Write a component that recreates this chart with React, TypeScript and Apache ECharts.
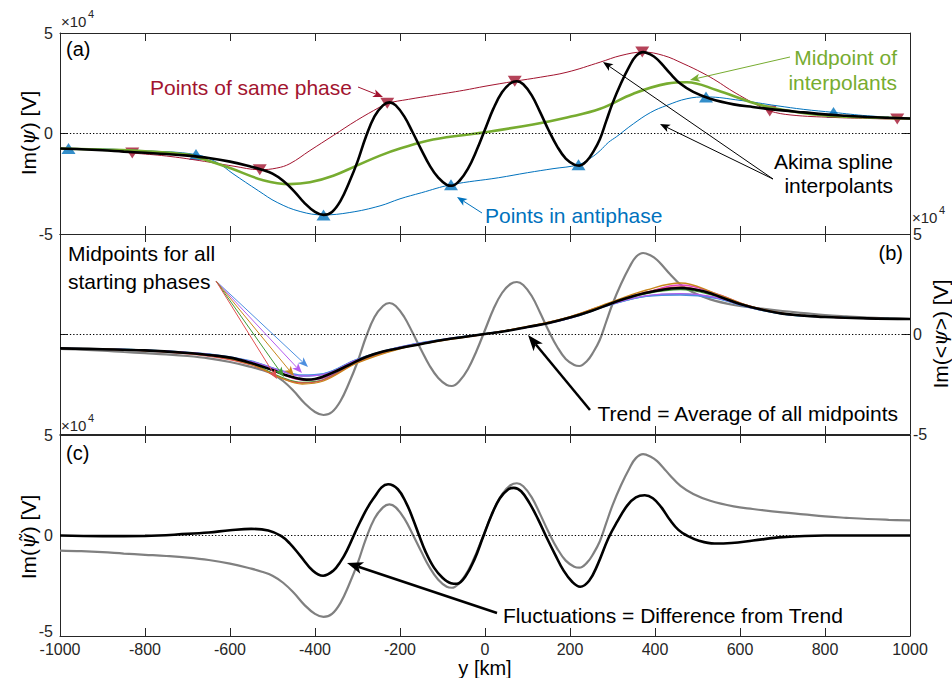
import React, { useEffect, useRef } from "react";
import * as echarts from "echarts";

// ---------- data (values in units of 1e4 V, y in km) ----------
const psi: [number, number][] = [
  [-1000, -0.75], [-950, -0.78], [-900, -0.83], [-850, -0.9], [-800, -0.96], [-750, -1.02],
  [-700, -1.1], [-650, -1.22], [-600, -1.4], [-550, -1.65], [-525, -1.8], [-500, -2.0],
  [-475, -2.35], [-450, -2.85], [-425, -3.45], [-400, -3.9], [-380, -4.05], [-360, -3.9],
  [-340, -3.35], [-320, -2.45], [-300, -1.4], [-280, -0.15], [-260, 0.85], [-240, 1.4],
  [-225, 1.55], [-210, 1.4], [-190, 0.85], [-170, 0.05], [-150, -0.8], [-130, -1.6],
  [-110, -2.2], [-90, -2.55], [-78, -2.6], [-60, -2.35], [-40, -1.75], [-20, -0.85],
  [0, 0.2], [20, 1.25], [40, 2.05], [60, 2.5], [75, 2.6], [90, 2.45], [110, 1.9],
  [130, 1.05], [150, 0.15], [170, -0.65], [190, -1.25], [210, -1.55], [222, -1.6],
  [240, -1.35], [255, -0.9], [270, -0.3], [285, 0.6], [300, 1.5], [320, 2.5], [340, 3.35],
  [355, 3.85], [372, 4.05], [390, 3.92], [405, 3.7], [420, 3.36], [435, 3.0], [460, 2.47],
  [490, 2.07], [530, 1.73], [585, 1.45], [630, 1.32], [700, 1.15], [750, 1.05], [800, 0.95],
  [850, 0.88], [900, 0.82], [950, 0.78], [1000, 0.75],
];

const samePhaseCurve: [number, number][] = [
  [-1000, -0.75], [-900, -0.82], [-830, -0.97], [-750, -1.12], [-671, -1.35], [-593, -1.62],
  [-530, -1.8], [-490, -1.72], [-459, -1.5], [-412, -0.85], [-357, -0.1], [-302, 0.65],
  [-247, 1.32], [-230, 1.5], [-180, 1.7], [-122, 1.9], [-50, 2.15], [0, 2.35], [70, 2.6],
  [130, 2.8], [193, 3.05], [271, 3.55], [320, 3.88], [372, 4.05], [420, 3.88], [466, 3.48],
  [513, 3.0], [546, 2.6], [575, 2.2], [607, 1.8], [640, 1.42], [670, 1.12], [720, 0.92],
  [819, 0.8], [900, 0.75], [970, 0.72], [1000, 0.72],
];

const antiPhaseCurve: [number, number][] = [
  [-1000, -0.75], [-980, -0.75], [-900, -0.77], [-800, -0.86], [-680, -1.05], [-630, -1.45],
  [-593, -2.0], [-533, -2.85], [-489, -3.43], [-435, -3.88], [-380, -4.05], [-318, -3.93],
  [-247, -3.6], [-200, -3.25], [-150, -2.95], [-80, -2.55], [32, -2.2], [100, -1.95],
  [160, -1.75], [220, -1.55], [250, -1.2], [271, -0.85], [290, -0.45], [310, -0.15],
  [349, 0.48], [390, 1.05], [428, 1.4], [475, 1.73], [520, 1.82], [600, 1.65], [687, 1.38],
  [750, 1.2], [820, 1.05], [900, 0.88], [1000, 0.76],
];

const midpointCurve: [number, number][] = [
  [-1000, -0.75], [-900, -0.8], [-800, -0.88], [-700, -1.05], [-671, -1.22], [-600, -1.72],
  [-522, -2.32], [-459, -2.52], [-412, -2.43], [-357, -2.1], [-302, -1.6], [-247, -1.1],
  [-200, -0.75], [-122, -0.3], [-4, 0.05], [113, 0.45], [193, 0.8], [271, 1.23], [349, 1.98],
  [428, 2.48], [475, 2.55], [546, 2.15], [624, 1.57], [687, 1.23], [788, 0.92], [900, 0.8],
  [1000, 0.75],
];

const samePhasePoints: [number, number][] = [
  [-830, -0.97], [-530, -1.8], [-230, 1.5], [70, 2.6], [370, 4.05], [670, 1.12], [970, 0.72],
];
const antiPhasePoints: [number, number][] = [
  [-980, -0.75], [-680, -1.05], [-380, -4.05], [-80, -2.55], [220, -1.55], [520, 1.82], [820, 1.05],
];

const trend: [number, number][] = [
  [-1000, -0.72], [-900, -0.76], [-800, -0.82], [-700, -0.95], [-650, -1.05], [-600, -1.18],
  [-550, -1.45], [-500, -1.8], [-470, -2.05], [-440, -2.22], [-420, -2.28], [-400, -2.25],
  [-360, -1.95], [-320, -1.55], [-280, -1.15], [-240, -0.88], [-200, -0.7], [-150, -0.5],
  [-100, -0.3], [-50, -0.15], [0, 0], [50, 0.15], [100, 0.35], [150, 0.55], [200, 0.82],
  [250, 1.15], [300, 1.55], [350, 1.9], [400, 2.15], [460, 2.3], [520, 2.1], [560, 1.8],
  [600, 1.5], [650, 1.22], [700, 1.02], [750, 0.92], [800, 0.85], [900, 0.78], [1000, 0.75],
];

const midX = [-1000, -800, -650, -550, -480, -430, -380, -300, -200, -100, 0, 100, 200, 300, 380, 460, 540, 620, 700, 800, 1000];
const midRed = [-0.72, -0.84, -1.1, -1.55, -2.2, -2.45, -2.3, -1.42, -0.72, -0.32, 0.0, 0.37, 0.86, 1.6, 2.1, 2.35, 1.98, 1.4, 1.03, 0.85, 0.75];
const midGreen = [-0.72, -0.83, -1.08, -1.5, -2.15, -2.42, -2.28, -1.4, -0.7, -0.3, 0.02, 0.36, 0.84, 1.57, 2.02, 2.22, 1.92, 1.37, 1.02, 0.85, 0.75];
const midOrange = [-0.72, -0.83, -1.06, -1.52, -2.2, -2.5, -2.35, -1.45, -0.74, -0.33, -0.01, 0.38, 0.87, 1.62, 2.2, 2.55, 2.05, 1.42, 1.04, 0.86, 0.75];
const midPurple = [-0.72, -0.81, -1.02, -1.38, -1.85, -2.1, -2.02, -1.28, -0.66, -0.28, 0.01, 0.33, 0.8, 1.5, 1.92, 2.02, 1.85, 1.35, 1.01, 0.85, 0.75];
const midBlue = [-0.72, -0.8, -1.0, -1.35, -1.82, -2.05, -1.98, -1.25, -0.65, -0.27, 0.02, 0.33, 0.79, 1.48, 1.88, 1.95, 1.8, 1.33, 1.0, 0.85, 0.75];
const midCyan = [-0.72, -0.8, -1.01, -1.37, -1.84, -2.1, -2.0, -1.27, -0.66, -0.28, 0.01, 0.34, 0.8, 1.5, 1.9, 2.0, 1.82, 1.34, 1.0, 0.85, 0.75];
const midMagenta = [-0.72, -0.82, -1.04, -1.45, -2.0, -2.3, -2.2, -1.38, -0.7, -0.3, 0.0, 0.35, 0.83, 1.56, 2.08, 2.45, 2.05, 1.42, 1.03, 0.85, 0.75];

const fluctuation: [number, number][] = [
  [-1000, 0], [-900, -0.03], [-800, -0.02], [-700, 0.08], [-650, 0.15], [-600, 0.26],
  [-550, 0.33], [-510, 0.25], [-480, -0.02], [-460, -0.38], [-435, -1.0], [-405, -1.75],
  [-381, -2.0], [-357, -1.75], [-340, -1.3], [-325, -0.75], [-294, 0.67], [-263, 1.83],
  [-228, 2.55], [-205, 2.3], [-185, 1.6], [-170, 0.85], [-155, 0], [-140, -0.8],
  [-120, -1.6], [-100, -2.1], [-80, -2.37], [-66, -2.4], [-45, -2.0], [-25, -1.2],
  [-5, -0.1], [15, 1.0], [35, 1.85], [55, 2.3], [68, 2.37], [85, 2.2], [105, 1.6],
  [125, 0.8], [145, -0.1], [165, -0.95], [185, -1.75], [205, -2.3], [224, -2.55], [245, -2.25],
  [265, -1.45], [290, -0.15], [310, 0.65], [335, 1.5], [355, 1.9], [376, 2.0], [395, 1.85],
  [415, 1.4], [435, 0.78], [455, 0.28], [475, 0.0], [505, -0.27], [540, -0.4], [580, -0.37],
  [631, -0.25], [700, -0.08], [800, 0], [1000, 0],
];

const xTickLabels = ["-1000", "-800", "-600", "-400", "-200", "0", "200", "400", "600", "800", "1000"];
const yTickLabels = ["-5", "0", "5"];

// ---------- style ----------
const FONT = '"Liberation Sans", Arial, Helvetica, sans-serif';
const AX = "#262626";
const RED = "#a2142f";
const BLUE = "#0072bd";
const GREEN = "#77ac30";
const GREY = "#808080";

const zip = (xs: number[], ys: number[]) => xs.map((x, i) => [x, ys[i]]);

function arrow(x1: number, y1: number, x2: number, y2: number, color: string, lw: number, hl: number, hw: number) {
  const dx = x2 - x1, dy = y2 - y1;
  const L = Math.hypot(dx, dy);
  const ux = dx / L, uy = dy / L;
  const bx = x2 - ux * hl, by = y2 - uy * hl;
  const nx = bx + ux * hl * 0.25, ny = by + uy * hl * 0.25;
  const px = -uy, py = ux;
  return [
    { type: "line", z: 100, shape: { x1, y1, x2: nx, y2: ny }, style: { stroke: color, lineWidth: lw } },
    {
      type: "polygon", z: 101,
      shape: { points: [[x2, y2], [bx + (px * hw) / 2, by + (py * hw) / 2], [nx, ny], [bx - (px * hw) / 2, by - (py * hw) / 2]] },
      style: { fill: color },
    },
  ];
}

function txt(text: string, x: number, y: number, o: any = {}) {
  return {
    type: "text", x, y, z: 102, rotation: o.rot || 0,
    style: {
      text, fill: o.color || "#000", fontSize: o.size || 21, fontFamily: FONT,
      align: o.align || "left", verticalAlign: o.valign || "middle",
      lineHeight: o.lh, rich: o.rich,
    },
  };
}

const italicRich = { i: { fontStyle: "italic", fontFamily: '"DejaVu Serif", serif', fontSize: 20 } };

function xAxisPair(grid: number, showLabels: boolean) {
  const base = {
    type: "value", gridIndex: grid, min: -1000, max: 1000, interval: 200,
    axisLine: { show: true, onZero: false, lineStyle: { color: AX, width: 1 } },
    axisTick: { show: true, inside: true, length: 8, lineStyle: { color: AX } },
    splitLine: { show: false },
  };
  return [
    {
      ...base, position: "bottom",
      axisLabel: {
        show: showLabels, color: AX, fontSize: 16, fontFamily: FONT, margin: 5,
        formatter: (v: number) => xTickLabels[Math.round((v + 1000) / 200)],
      },
    },
    { ...base, position: "top", axisLabel: { show: false } },
  ];
}

function yAxisPair(grid: number, leftLabels: boolean, rightLabels: boolean, showMinLeft = true) {
  const base = {
    type: "value", gridIndex: grid, min: -5, max: 5, interval: 5,
    axisLine: { show: true, onZero: false, lineStyle: { color: AX, width: 1 } },
    axisTick: { show: true, inside: true, length: 8, lineStyle: { color: AX } },
    splitLine: { show: false },
  };
  const fmt = (v: number) => yTickLabels[Math.round((v + 5) / 5)];
  return [
    {
      ...base, position: "left",
      axisLabel: { show: leftLabels, showMinLabel: showMinLeft, color: AX, fontSize: 16, fontFamily: FONT, margin: 7, formatter: fmt },
    },
    { ...base, position: "right", axisLabel: { show: rightLabels, color: AX, fontSize: 16, fontFamily: FONT, margin: 3, formatter: fmt } },
  ];
}

const zeroLine = {
  silent: true, symbol: "none", label: { show: false },
  lineStyle: { color: "#000", width: 1, type: [1.3, 2.0] },
  data: [{ yAxis: 0 }],
};

function lineSeries(data: any[], xi: number, yi: number, color: string, width: number, extra: any = {}) {
  return {
    type: "line", data, xAxisIndex: xi, yAxisIndex: yi, showSymbol: false, symbol: "none",
    smooth: 0.4, lineStyle: { color, width }, itemStyle: { color }, silent: true, ...extra,
  };
}

export default function App() {
  const ref = useRef<HTMLDivElement>(null);
  useEffect(() => {
    if (!ref.current) return;
    const chart = echarts.init(ref.current, undefined, { renderer: "svg" });

    const midColors: [number[], string][] = [
      [midCyan, "#22b3b3"], [midBlue, "#4d8fe0"], [midPurple, "#b35cf0"], [midMagenta, "#e040c0"],
      [midGreen, "#3f9a35"], [midRed, "#e05050"], [midOrange, "#c8861a"],
    ];

    const graphic: any[] = [
      // panel (a)
      txt("(a)", 66, 49, { size: 20 }),
      txt("×10", 61, 21, { size: 15, color: AX }),
      txt("4", 88, 14, { size: 11, color: AX }),
      txt("Points of same phase", 150, 87, { color: RED }),
      ...arrow(358, 87, 383, 97, RED, 1, 10, 8),
      txt("Midpoint of\ninterpolants", 897, 70, { color: GREEN, align: "right", lh: 25 }),
      ...arrow(790, 57, 690, 80, GREEN, 1, 10, 8),
      txt("Akima spline\ninterpolants", 893, 173, { align: "right", lh: 24 }),
      ...arrow(773, 179, 603, 62, "#000", 1, 10, 8),
      ...arrow(773, 179, 660, 124, "#000", 1, 10, 8),
      txt("Points in antiphase", 485, 215, { color: BLUE }),
      ...arrow(482, 213, 457, 197, BLUE, 1, 10, 8),
      txt("Im({i|ψ}) [V]", 28, 133, { rot: Math.PI / 2, align: "center", rich: italicRich }),
      // panel (b)
      txt("Midpoints for all\nstarting phases", 68, 267, { lh: 28 }),
      ...arrow(216, 281, 308, 367, "#4d8fe0", 1, 10, 8),
      ...arrow(216, 281, 302, 373, "#b35cf0", 1, 10, 8),
      ...arrow(216, 281, 294, 376, "#c8861a", 1, 10, 8),
      ...arrow(216, 281, 284, 377, "#3f9a35", 1, 10, 8),
      ...arrow(216, 281, 277, 379, "#e05050", 1, 10, 8),
      txt("(b)", 903, 253, { align: "right", size: 20 }),
      txt("Trend = Average of all midpoints", 898, 413, { align: "right" }),
      ...arrow(590, 410, 528, 335, "#000", 2.5, 16, 12),
      txt("×10", 912, 217, { size: 15, color: AX }),
      txt("4", 939, 210, { size: 11, color: AX }),
      txt("Im(<{i|ψ}>) [V]", 940, 334, { rot: Math.PI / 2, align: "center", rich: italicRich }),
      // panel (c)
      txt("(c)", 66, 453, { size: 20 }),
      txt("×10", 61, 425, { size: 15, color: AX }),
      txt("4", 88, 418, { size: 11, color: AX }),
      txt("-5", 53, 631, { size: 16, color: AX, align: "right" }),
      txt("Fluctuations = Difference from Trend", 503, 615),
      ...arrow(497, 613, 347, 563, "#000", 2.5, 16, 12),
      txt("Im({i|ψ̃}) [V]", 28, 537, { rot: Math.PI / 2, align: "center", rich: italicRich }),
      txt("y [km]", 485, 668, { align: "center", size: 20 }),
    ];

    const option: any = {
      animation: false,
      backgroundColor: "#fff",
      textStyle: { fontFamily: FONT },
      grid: [
        { left: 60, top: 33, width: 850, height: 201 },
        { left: 60, top: 234, width: 850, height: 200 },
        { left: 60, top: 435, width: 850, height: 201 },
      ],
      xAxis: [...xAxisPair(0, false), ...xAxisPair(1, false), ...xAxisPair(2, true)],
      yAxis: [...yAxisPair(0, true, false), ...yAxisPair(1, false, true), ...yAxisPair(2, true, false, false)],
      series: [
        // (a)
        lineSeries(samePhaseCurve, 0, 0, RED, 1, { markLine: zeroLine }),
        lineSeries(antiPhaseCurve, 0, 0, BLUE, 1),
        lineSeries(midpointCurve, 0, 0, GREEN, 2.6),
        lineSeries(psi, 0, 0, "#000", 2.6),
        {
          type: "scatter", data: samePhasePoints, xAxisIndex: 0, yAxisIndex: 0, silent: true,
          symbol: "triangle", symbolRotate: 180, symbolSize: [14, 11], itemStyle: { color: RED },
        },
        {
          type: "scatter", data: antiPhasePoints, xAxisIndex: 0, yAxisIndex: 0, silent: true,
          symbol: "triangle", symbolSize: [14, 11], itemStyle: { color: BLUE },
        },
        // (b)
        lineSeries(psi, 2, 2, GREY, 2.2, { markLine: zeroLine }),
        ...midColors.map(([ys, c]) => lineSeries(zip(midX, ys), 2, 2, c, 1.3)),
        lineSeries(trend, 2, 2, "#000", 2.6),
        // (c)
        lineSeries(psi, 4, 4, GREY, 2.2, { markLine: zeroLine }),
        lineSeries(fluctuation, 4, 4, "#000", 2.6),
      ],
      graphic,
    };
    chart.setOption(option);
    return () => chart.dispose();
  }, []);
  return <div ref={ref} style={{ position: "fixed", left: 0, top: 0, width: 952, height: 678, background: "#fff" }} />;
}
